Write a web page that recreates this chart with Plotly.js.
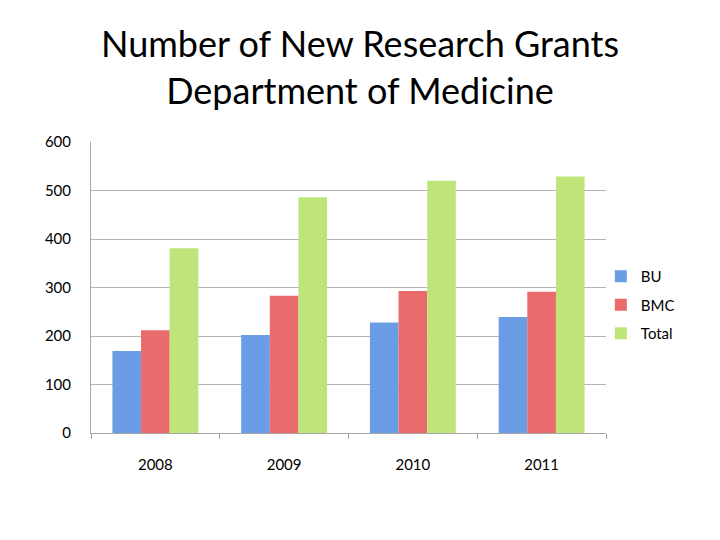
<!DOCTYPE html>
<html>
<head>
<meta charset="utf-8">
<script src="https://cdn.plot.ly/plotly-3.0.1.min.js"></script>
<style>html,body{margin:0;padding:0;background:#fff;}#chart{width:720px;height:540px;}</style>
</head>
<body>
<div id="chart"></div>
<script>
const years = ['2008', '2009', '2010', '2011'];
const buValues = [169, 202, 228, 239];
const bmcValues = [212, 283, 293, 291];
const totalValues = [381, 486, 520, 529];
const yTicks = [0, 100, 200, 300, 400, 500, 600];

const font = 'Lato, "Open Sans", sans-serif';

const traces = [
  {type: 'bar', name: 'BU', x: years, y: buValues, legendgroup: 'a',
   marker: {color: '#6a9de6', line: {width: 0}}},
  {type: 'bar', name: 'BMC', x: years, y: bmcValues, legendgroup: 'b',
   marker: {color: '#e96b6b', line: {width: 0}}},
  {type: 'bar', name: 'Total', x: years, y: totalValues, legendgroup: 'c',
   marker: {color: '#bfe57a', line: {width: 0}}}
];

const layout = {
  width: 720, height: 540,
  margin: {l: 91, r: 114, t: 142, b: 107},
  paper_bgcolor: '#ffffff', plot_bgcolor: '#ffffff',
  title: {
    text: 'Number of New Research Grants<br>Department of Medicine',
    font: {family: font, size: 36, color: '#000'},
    x: 0.5, xanchor: 'center', y: 0.895, yanchor: 'middle'
  },
  barmode: 'group', bargap: 0.333, bargroupgap: 0,
  showlegend: true,
  legend: {x: 0.99, xanchor: 'left', y: 0.44, yanchor: 'middle',
    traceorder: 'grouped', tracegroupgap: 6,
    font: {family: font, size: 15, color: '#000'},
    itemwidth: 30, bgcolor: 'rgba(0,0,0,0)'},
  xaxis: {
    type: 'category', tickson: 'boundaries', ticks: 'outside', ticklen: 5,
    tickcolor: '#a6a6a6', showline: true, linecolor: '#a6a6a6', linewidth: 1,
    showgrid: false, tickfont: {family: font, size: 15, color: '#000'},
    ticklabelstandoff: 18
  },
  yaxis: {
    range: [0, 600], tickvals: yTicks, ticktext: yTicks.map(String),
    showgrid: true, gridcolor: '#b4b4b4', gridwidth: 1,
    showline: true, linecolor: '#a6a6a6', linewidth: 1, zeroline: false,
    ticks: '', tickfont: {family: font, size: 15, color: '#000'},
    ticklabelstandoff: 16
  }
};

Plotly.newPlot('chart', traces, layout, {displayModeBar: false, staticPlot: true});
</script>
</body>
</html>
